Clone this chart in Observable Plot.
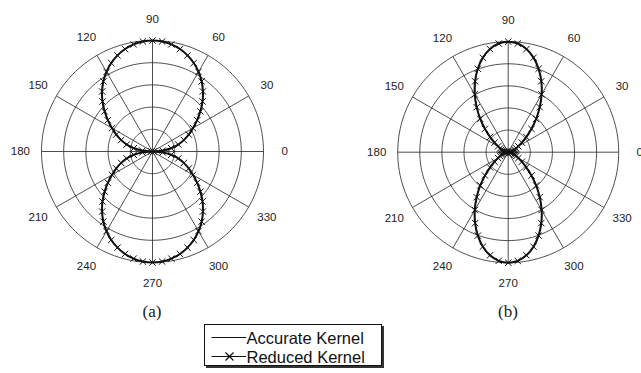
<!DOCTYPE html>
<html><head><meta charset="utf-8">
<script src="https://cdn.jsdelivr.net/npm/d3@7"></script>
<script src="https://cdn.jsdelivr.net/npm/@observablehq/plot@0.6"></script>
<style>
html,body{margin:0;padding:0;background:#fff}
body{width:641px;height:373px;overflow:hidden;position:relative;font-family:"Liberation Sans",Arial,sans-serif}
.panel{position:absolute;top:0;width:320px;height:310px}
#pa{left:0}
#pb{left:320px}
.panel svg{overflow:visible;max-width:none!important}
.cap{position:absolute;top:302px;font-family:"Liberation Serif","Times New Roman",serif;font-size:17px;color:#222;transform:translateX(-50%);line-height:20px}
#legend{position:absolute;left:204px;top:324px;width:176px;height:40px;border:1.5px solid #111;box-shadow:2px 2px 0 #333;background:#fff}
</style></head>
<body>
<div id="pa" class="panel"></div>
<div id="pb" class="panel"></div>
<div class="cap" style="left:152px">(a)</div>
<div class="cap" style="left:508px">(b)</div>
<div id="legend"></div>
<script>
// angle grid (degrees)
const angles = d3.range(0, 360, 5);
// panel (a): radial values read at every 5 degrees
const accurateA = [
 0,.090,.170,.240,.300,.360,.420,.490,.563,.637,.707,.772,.829,.880,.922,.956,.980,.995,
 1,.995,.980,.956,.922,.880,.829,.772,.707,.637,.563,.490,.420,.360,.300,.240,.170,.090,
 0,.090,.170,.240,.300,.360,.420,.490,.563,.637,.707,.772,.829,.880,.922,.956,.980,.995,
 1,.995,.980,.956,.922,.880,.829,.772,.707,.637,.563,.490,.420,.360,.300,.240,.170,.090];
const reducedA = [
 .01,.092,.171,.241,.301,.361,.421,.491,.563,.637,.706,.771,.828,.879,.921,.955,.980,.995,
 1,.995,.980,.955,.921,.879,.828,.771,.706,.637,.563,.491,.421,.361,.301,.241,.171,.092,
 .01,.092,.171,.241,.301,.361,.421,.491,.563,.637,.706,.771,.828,.879,.921,.955,.980,.995,
 1,.995,.980,.955,.921,.879,.828,.771,.706,.637,.563,.491,.421,.361,.301,.241,.171,.092];
// panel (b)
const accurateB = [
 0,.020,.040,.055,.065,.080,.105,.150,.213,.297,.393,.498,.605,.709,.804,.886,.948,.987,
 1,.987,.948,.886,.804,.709,.605,.498,.393,.297,.213,.150,.105,.080,.065,.055,.040,.020,
 0,.020,.040,.055,.065,.080,.105,.150,.213,.297,.393,.498,.605,.709,.804,.886,.948,.987,
 1,.987,.948,.886,.804,.709,.605,.498,.393,.297,.213,.150,.105,.080,.065,.055,.040,.020];
const reducedB = [
 .01,.022,.042,.056,.066,.081,.106,.151,.214,.298,.393,.497,.604,.708,.803,.885,.947,.987,
 1,.987,.947,.885,.803,.708,.604,.497,.393,.298,.214,.151,.106,.081,.066,.056,.042,.022,
 .01,.022,.042,.056,.066,.081,.106,.151,.214,.298,.393,.497,.604,.708,.803,.885,.947,.987,
 1,.987,.947,.885,.803,.708,.604,.497,.393,.298,.214,.151,.106,.081,.066,.056,.042,.022];
// grid
const ringValues = [0.2, 0.4, 0.6, 0.8, 1.0];
const spokeAngles = d3.range(0, 360, 30);
const tickLabels = ["0","30","60","90","120","150","180","210","240","270","300","330"];

const rad = d => d * Math.PI / 180;
const toXY = (rs) => angles.map((a, i) => ({x: rs[i] * Math.cos(rad(a)), y: rs[i] * Math.sin(rad(a))}));

function polar(rAcc, rRed, cx, cy, R) {
  const rings = ringValues.flatMap(v => d3.range(0, 360, 2).map(a => ({ring: v, x: v * Math.cos(rad(a)), y: v * Math.sin(rad(a))})));
  const spokes = spokeAngles.map(a => ({x2: Math.cos(rad(a)), y2: Math.sin(rad(a))}));
  const labels = spokeAngles.map((a, i) => ({x: 1.19 * Math.cos(rad(a)), y: 1.19 * Math.sin(rad(a)), t: tickLabels[i]}));
  const acc = toXY(rAcc), red = toXY(rRed);
  return Plot.plot({
    width: 320, height: 310, margin: 0,
    style: {overflow: "visible", background: "transparent"},
    x: {domain: [-1, 1], range: [cx - R, cx + R], axis: null},
    y: {domain: [-1, 1], range: [cy + R, cy - R], axis: null},
    marks: [
      Plot.line(rings, {x: "x", y: "y", z: "ring", curve: "linear-closed", stroke: "#222", strokeWidth: 0.8}),
      Plot.link(spokes, {x1: 0, y1: 0, x2: "x2", y2: "y2", stroke: "#222", strokeWidth: 0.8}),
      Plot.text(labels, {x: "x", y: "y", text: "t", fontSize: 11.5, fill: "#222", fontFamily: "Liberation Sans, Arial, sans-serif"}),
      Plot.line(acc, {x: "x", y: "y", curve: "catmull-rom-closed", stroke: "#111", strokeWidth: 2}),
      Plot.line(red, {x: "x", y: "y", curve: "catmull-rom-closed", stroke: "#111", strokeWidth: 1}),
      Plot.dot(red, {x: "x", y: "y", symbol: "times", r: 3, stroke: "#111", strokeWidth: 1})
    ]
  });
}

document.getElementById("pa").append(polar(accurateA, reducedA, 152, 151, 111));
document.getElementById("pb").append(polar(accurateB, reducedB, 187.7, 151.7, 110.5));

// legend
const legendNames = ["Accurate Kernel", "Reduced Kernel"];
const ns = "http://www.w3.org/2000/svg";
const lg = document.createElementNS(ns, "svg");
lg.setAttribute("width", 176); lg.setAttribute("height", 40);
lg.innerHTML = `
 <line x1="6.5" x2="41" y1="12.5" y2="12.5" stroke="#111" stroke-width="1.2"/>
 <line x1="6.5" x2="41" y1="31.5" y2="31.5" stroke="#111" stroke-width="1.2"/>
 <path d="M20.5,27.5L28.5,35.5M20.5,35.5L28.5,27.5" stroke="#111" stroke-width="1.2"/>
 <text x="41.5" y="18.5" font-size="16.5" fill="#111" font-family="Liberation Sans, Arial, sans-serif">${legendNames[0]}</text>
 <text x="41.5" y="37.5" font-size="16.5" fill="#111" font-family="Liberation Sans, Arial, sans-serif">${legendNames[1]}</text>`;
document.getElementById("legend").append(lg);
</script>
</body></html>
